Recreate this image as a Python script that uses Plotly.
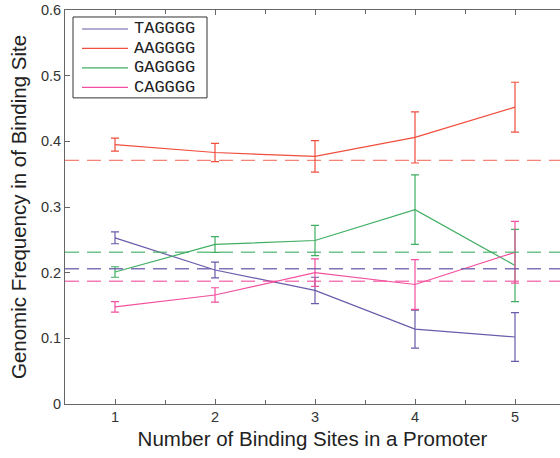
import plotly.graph_objects as go

x_sites = [1, 2, 3, 4, 5]
series_names = ["TAGGGG", "AAGGGG", "GAGGGG", "CAGGGG"]
tagggg = [0.253, 0.204, 0.173, 0.114, 0.102]
tagggg_err = [0.009, 0.012, 0.020, 0.029, 0.037]
aagggg = [0.395, 0.383, 0.377, 0.406, 0.452]
aagggg_err = [0.010, 0.014, 0.024, 0.039, 0.038]
gagggg = [0.201, 0.243, 0.249, 0.296, 0.211]
gagggg_err = [0.008, 0.012, 0.023, 0.053, 0.055]
cagggg = [0.148, 0.166, 0.200, 0.182, 0.231]
cagggg_err = [0.008, 0.011, 0.021, 0.038, 0.047]
baseline_levels = [0.206, 0.371, 0.231, 0.187]

colors = ["#6b5bab", "#f04e3e", "#3fae62", "#f2509e"]
dash_colors = ["rgba(107,91,171,0.85)", "rgba(240,78,62,0.7)", "rgba(63,174,98,0.75)", "rgba(242,80,158,0.75)"]

values = [tagggg, aagggg, gagggg, cagggg]
errors = [tagggg_err, aagggg_err, gagggg_err, cagggg_err]

# plot area geometry (pixels) for placing the hand-made legend box
L, T, W, H = 65, 10, 495, 394.5
def px_x(p):
    return (p - L) / W
def px_y(p):
    return (T + H - p) / H

fig = go.Figure()
for name, v, e, c in zip(series_names, values, errors, colors):
    fig.add_trace(go.Scatter(
        x=x_sites, y=v, mode="lines", name=name, showlegend=False,
        line=dict(color=c, width=1.2),
        error_y=dict(type="data", array=e, visible=True, color=c, thickness=1.2, width=4),
    ))
for lvl, c in zip(baseline_levels, dash_colors):
    fig.add_trace(go.Scatter(
        x=[0.5, 5.5], y=[lvl, lvl], mode="lines", showlegend=False,
        line=dict(color=c, width=1.4, dash="14px,8px"), hoverinfo="skip",
    ))

# legend box
shapes = [dict(type="rect", xref="paper", yref="paper",
               x0=px_x(73), x1=px_x(207), y0=px_y(98), y1=px_y(17),
               line=dict(color="#333333", width=1), fillcolor="white", layer="above")]
annotations = []
row_y = [29, 48.5, 68, 87.5]
for name, c, ry in zip(series_names, colors, row_y):
    shapes.append(dict(type="line", xref="paper", yref="paper",
                       x0=px_x(82), x1=px_x(128), y0=px_y(ry), y1=px_y(ry),
                       line=dict(color=c, width=1.2), layer="above"))
    annotations.append(dict(xref="paper", yref="paper", x=px_x(132), y=px_y(ry),
                            xanchor="left", yanchor="middle", showarrow=False, text=name,
                            font=dict(family="Liberation Mono, Courier New, monospace",
                                      size=17, color="#222222")))

axis_font = dict(family="Liberation Sans, Arial, sans-serif", size=14.5, color="#333333")
title_font = dict(family="Liberation Sans, Arial, sans-serif", size=20.5, color="#222222")
fig.update_layout(
    width=560, height=458,
    margin=dict(l=65, r=0, t=10, b=54),
    paper_bgcolor="white", plot_bgcolor="white",
    showlegend=False,
    shapes=shapes, annotations=annotations,
    xaxis=dict(
        range=[0.5, 5.45], tickvals=x_sites, ticktext=[str(v) for v in x_sites],
        ticks="inside", ticklen=5, tickcolor="#666666",
        showline=True, linecolor="#666666", linewidth=1, mirror="ticks",
        showgrid=False, zeroline=False,
        minor=dict(dtick=0.5, tick0=0.5, ticks="inside", ticklen=4, tickcolor="#666666"),
        tickfont=axis_font,
        title=dict(text="Number of Binding Sites in a Promoter", font=title_font, standoff=7),
    ),
    yaxis=dict(
        range=[0, 0.6], tickvals=[0, 0.1, 0.2, 0.3, 0.4, 0.5, 0.6],
        ticktext=["0", "0.1", "0.2", "0.3", "0.4", "0.5", "0.6"],
        ticks="inside", ticklen=5, tickcolor="#666666",
        showline=True, linecolor="#666666", linewidth=1,
        showgrid=False, zeroline=False,
        tickfont=axis_font,
        title=dict(text="Genomic Frequency in of Binding Site", font=title_font, standoff=8),
    ),
)

fig.write_html("out.html")
